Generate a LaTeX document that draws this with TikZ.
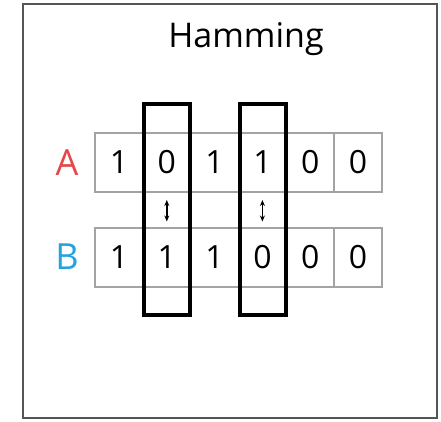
\documentclass[tikz,border=0pt]{standalone}
\usepackage{fontspec}
\setmainfont{Open Sans}
\usepackage{xcolor}
\usepackage{tikz}
\usetikzlibrary{positioning,arrows.meta,calc}
\definecolor{hRed}{HTML}{E5484B}
\definecolor{hBlue}{HTML}{23A3DF}
\definecolor{hGrey}{HTML}{A3A3A3}
\definecolor{hFrame}{HTML}{555555}

\begin{document}
\begin{tikzpicture}[x=1pt, y=-1pt,
  bit/.style={draw=hGrey, line width=2pt, minimum width=47.8pt, minimum height=59pt, inner sep=0pt, font=\fontsize{32}{36}\selectfont},
  diffbox/.style={draw=black, line width=4pt, minimum width=46pt, minimum height=211pt, inner sep=0pt},
  tag/.style={font=\fontsize{36}{40}\selectfont},
  swap/.style={{Stealth[length=6pt,width=5pt]}-{Stealth[length=6pt,width=5pt]}, line width=1.4pt, shorten <=7pt, shorten >=5pt}]
\useasboundingbox (0,0) rectangle (441,421);
\draw[hFrame, line width=2pt] (23,4) rectangle (437,418);
\node[anchor=base] (title) at (246,47) {\fontsize{34}{40}\selectfont Hamming};
% row A
\node[bit] (a1) at (119,162.5) {1};
\node[bit] (a2) at (166.8,162.5) {0};
\node[bit] (a3) at (214.6,162.5) {1};
\node[bit] (a4) at (262.4,162.5) {1};
\node[bit] (a5) at (310.2,162.5) {0};
\node[bit] (a6) at (358,162.5) {0};
% row B
\node[bit] (b1) at (119,257) {1};
\node[bit] (b2) at (166.8,257) {1};
\node[bit] (b3) at (214.6,257) {1};
\node[bit] (b4) at (262.4,257) {0};
\node[bit] (b5) at (310.2,257) {0};
\node[bit] (b6) at (358,257) {0};
\node[tag, hRed] (la) at (67,162.5) {A};
\node[tag, hBlue] (lb) at (67,257) {B};
% differing positions
\node[diffbox] (d1) at (166.5,209) {};
\node[diffbox] (d2) at (262.5,209) {};
\draw[swap] (a2.south) -- (b2.north);
\draw[swap] (a4.south) -- (b4.north);
\end{tikzpicture}
\end{document}
